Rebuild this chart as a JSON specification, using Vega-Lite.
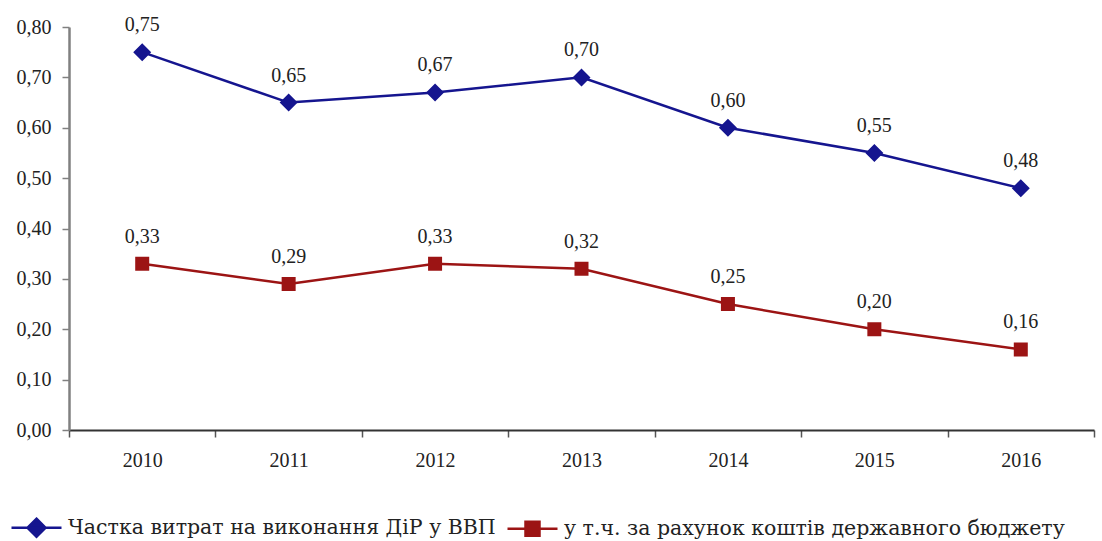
{
  "$schema": "https://vega.github.io/schema/vega-lite/v6.json",
  "autosize": "none",
  "width": 1025,
  "height": 403,
  "padding": {"left": 69, "top": 27, "right": 8, "bottom": 111},
  "background": "white",
  "config": {
    "view": {"stroke": null},
    "font": "Liberation Serif",
    "locale": {"number": {"decimal": ",", "thousands": " ", "grouping": [3], "currency": ["", " ₴"]}}
  },
  "data": {
    "values": [
      {"year": "2010", "series": "Частка витрат на виконання ДіР у ВВП", "value": 0.75},
      {"year": "2011", "series": "Частка витрат на виконання ДіР у ВВП", "value": 0.65},
      {"year": "2012", "series": "Частка витрат на виконання ДіР у ВВП", "value": 0.67},
      {"year": "2013", "series": "Частка витрат на виконання ДіР у ВВП", "value": 0.70},
      {"year": "2014", "series": "Частка витрат на виконання ДіР у ВВП", "value": 0.60},
      {"year": "2015", "series": "Частка витрат на виконання ДіР у ВВП", "value": 0.55},
      {"year": "2016", "series": "Частка витрат на виконання ДіР у ВВП", "value": 0.48},
      {"year": "2010", "series": "у т.ч. за рахунок коштів державного бюджету", "value": 0.33},
      {"year": "2011", "series": "у т.ч. за рахунок коштів державного бюджету", "value": 0.29},
      {"year": "2012", "series": "у т.ч. за рахунок коштів державного бюджету", "value": 0.33},
      {"year": "2013", "series": "у т.ч. за рахунок коштів державного бюджету", "value": 0.32},
      {"year": "2014", "series": "у т.ч. за рахунок коштів державного бюджету", "value": 0.25},
      {"year": "2015", "series": "у т.ч. за рахунок коштів державного бюджету", "value": 0.20},
      {"year": "2016", "series": "у т.ч. за рахунок коштів державного бюджету", "value": 0.16}
    ]
  },
  "encoding": {
    "x": {
      "field": "year", "type": "ordinal",
      "scale": {"type": "band", "paddingInner": 0, "paddingOuter": 0},
      "axis": {
        "title": null, "labelAngle": 0, "tickBand": "extent",
        "domainColor": "#333333", "domainWidth": 2, "tickColor": "#555555", "tickWidth": 1.5, "tickSize": 7,
        "labelFontSize": 20, "labelColor": "#222222", "labelPadding": 13, "grid": false
      }
    },
    "y": {
      "field": "value", "type": "quantitative",
      "scale": {"domain": [0, 0.8], "nice": false, "zero": true},
      "axis": {
        "title": null, "values": [0, 0.1, 0.2, 0.3, 0.4, 0.5, 0.6, 0.7, 0.8], "format": ".2f",
        "domainColor": "#808080", "domainWidth": 2.5, "tickColor": "#808080", "tickWidth": 1.5, "tickSize": 7,
        "labelFontSize": 20, "labelColor": "#222222", "labelPadding": 11, "grid": false
      }
    }
  },
  "layer": [
    {
      "mark": {"type": "line", "strokeWidth": 2.5},
      "encoding": {
        "color": {
          "field": "series", "type": "nominal",
          "scale": {"domain": ["Частка витрат на виконання ДіР у ВВП", "у т.ч. за рахунок коштів державного бюджету"], "range": ["#15158f", "#9c1414"]},
          "legend": {
            "title": null, "orient": "none", "direction": "horizontal", "legendX": -59, "legendY": 474,
            "labelFont": "DejaVu Serif", "labelFontSize": 20.5, "labelColor": "#222222", "labelLimit": 800, "labelOffset": 5,
            "columnPadding": 6, "symbolSize": 2500,
            "encode": {"symbols": {"update": {"stroke": {"scale": "color", "field": "value"}, "fill": {"scale": "color", "field": "value"}, "strokeWidth": {"value": 2.5}}}}
          }
        },
        "shape": {
          "field": "series", "type": "nominal",
          "scale": {
            "domain": ["Частка витрат на виконання ДіР у ВВП", "у т.ч. за рахунок коштів державного бюджету"],
            "range": ["M-1,0H1M0,-0.36L0.36,0L0,0.36L-0.36,0Z", "M-1,0H1M-0.28,-0.28H0.28V0.28H-0.28Z"]
          }
        }
      }
    },
    {
      "mark": {"type": "point", "filled": true, "opacity": 1, "size": 2500},
      "encoding": {
        "shape": {"field": "series", "type": "nominal"},
        "color": {"field": "series", "type": "nominal"}
      }
    },
    {
      "mark": {"type": "text", "dy": -27, "fontSize": 20, "color": "#222222"},
      "encoding": {
        "text": {"field": "value", "type": "quantitative", "format": ".2f"}
      }
    }
  ]
}
